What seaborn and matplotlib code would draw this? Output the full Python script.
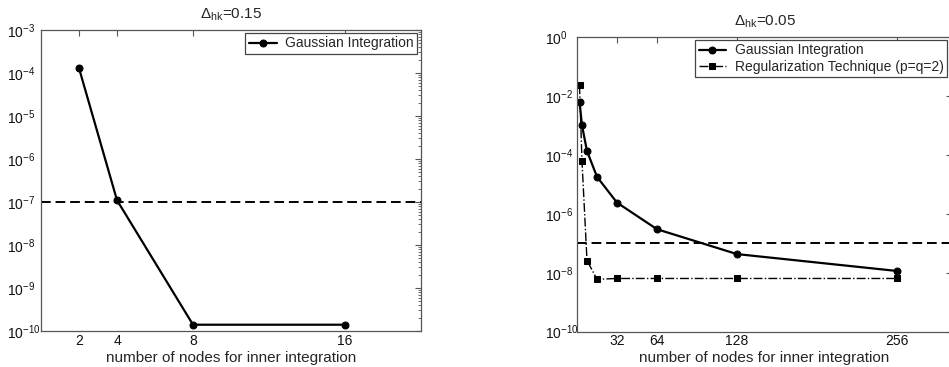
import numpy as np
import pandas as pd
import matplotlib
matplotlib.use("Agg")
import matplotlib.pyplot as plt
import matplotlib.ticker as mticker
import seaborn as sns

# values
nodes_left = [2, 4, 8, 16]
err_left = [1.3e-4, 1.1e-7, 1.4e-10, 1.4e-10]

nodes_right = [2, 4, 8, 16, 32, 64, 128, 256]
gauss_right = [6.4e-3, 1.0e-3, 1.35e-4, 1.8e-5, 2.4e-6, 3.0e-7, 4.3e-8, 1.15e-8]
reg_right = [2.3e-2, 6.0e-5, 2.6e-8, 6.0e-9, 6.4e-9, 6.4e-9, 6.4e-9, 6.4e-9]

tolerance = 1e-7
xticks_left = [2, 4, 8, 16]
xticks_right = [32, 64, 128, 256]
yticks_left = [1e-10, 1e-9, 1e-8, 1e-7, 1e-6, 1e-5, 1e-4, 1e-3]
yticks_right = [1e-10, 1e-8, 1e-6, 1e-4, 1e-2, 1e0]

sns.set_style("white")
plt.rcParams['font.family'] = ['Liberation Sans', 'DejaVu Sans']
plt.rcParams['mathtext.fontset'] = 'custom'
plt.rcParams['mathtext.rm'] = 'Liberation Sans'
plt.rcParams['mathtext.it'] = 'Liberation Sans'
plt.rcParams['mathtext.default'] = 'regular'
plt.rcParams['axes.unicode_minus'] = False

W, H = 949, 367
fig = plt.figure(figsize=(W / 100, H / 100), dpi=100)
axL = fig.add_axes([41 / W, (H - 331) / H, 380 / W, 301 / H])
axR = fig.add_axes([577 / W, (H - 331.7) / H, 375 / W, 294.7 / H])

df_left = pd.DataFrame({'nodes': nodes_left, 'error': err_left})
df_right = pd.DataFrame({'nodes': nodes_right, 'gauss': gauss_right, 'reg': reg_right})

sns.lineplot(data=df_left, x='nodes', y='error', marker='o', color='black',
             linewidth=1.6, markersize=5, markeredgecolor='black',
             label='Gaussian Integration', ax=axL)
axL.axhline(tolerance, color='black', linestyle='--', linewidth=1.4, dashes=(5, 2.5))

sns.lineplot(data=df_right, x='nodes', y='gauss', marker='o', color='black',
             linewidth=1.6, markersize=5, markeredgecolor='black',
             label='Gaussian Integration', ax=axR)
sns.lineplot(data=df_right, x='nodes', y='reg', marker='s', color='black',
             linewidth=1.0, markersize=4.2, markeredgecolor='black',
             linestyle='-.', label='Regularization Technique (p=q=2)', ax=axR)
axR.axhline(tolerance, color='black', linestyle='--', linewidth=1.4, dashes=(5, 2.5))

for ax in (axL, axR):
    ax.set_yscale('log')
    ax.set_xlabel('number of nodes for inner integration', fontsize=11, labelpad=2)
    ax.set_ylabel('')
    for s in ax.spines.values():
        s.set_color('#555555')
        s.set_linewidth(0.9)
    ax.tick_params(which='both', direction='in', top=True, right=True,
                   colors='#555555', labelcolor='#111111', labelsize=10)
    ax.tick_params(which='major', length=4)
    ax.tick_params(which='minor', length=2)
    ax.tick_params(axis='x', pad=2)

axL.set_xlim(0, 20)
axL.set_ylim(1e-10, 1e-3)
axL.set_xticks(xticks_left)
axL.yaxis.set_major_locator(mticker.FixedLocator(yticks_left))
axL.yaxis.set_major_formatter(mticker.LogFormatterSciNotation())
axL.yaxis.set_minor_locator(mticker.LogLocator(base=10, subs=np.arange(2, 10), numticks=20))
axL.yaxis.set_minor_formatter(mticker.NullFormatter())
axL.set_title(r'$\Delta_{hk}$=0.15', fontsize=11, pad=8)

axR.set_xlim(0, 300)
axR.set_ylim(1e-10, 1e0)
axR.set_xticks(xticks_right)
axR.yaxis.set_major_locator(mticker.FixedLocator(yticks_right))
axR.yaxis.set_minor_locator(mticker.FixedLocator([1e-9, 1e-7, 1e-5, 1e-3, 1e-1]))
axR.yaxis.set_major_formatter(mticker.LogFormatterSciNotation())
axR.yaxis.set_minor_formatter(mticker.NullFormatter())
axR.set_title(r'$\Delta_{hk}$=0.05', fontsize=11, pad=8)

# MATLAB-like left-aligned y tick labels
axL.tick_params(axis='y', pad=24.5)
axR.tick_params(axis='y', pad=23)
fig.canvas.draw()
for ax in (axL, axR):
    for lab in ax.get_yticklabels():
        lab.set_horizontalalignment('left')

legL = axL.legend(loc='upper right', bbox_to_anchor=(0.9895, 0.99), borderaxespad=0,
                  fontsize=10, fancybox=False, framealpha=1, edgecolor='#444444',
                  borderpad=0.25, handlelength=2.0, handletextpad=0.6)
legR = axR.legend(loc='upper right', bbox_to_anchor=(0.9867, 0.99), borderaxespad=0,
                  fontsize=10, fancybox=False, framealpha=1, edgecolor='#444444',
                  borderpad=0.25, handlelength=2.0, handletextpad=0.6, labelspacing=0.15)
for leg in (legL, legR):
    leg.get_frame().set_linewidth(0.9)

fig.savefig('out.png', dpi=100)
